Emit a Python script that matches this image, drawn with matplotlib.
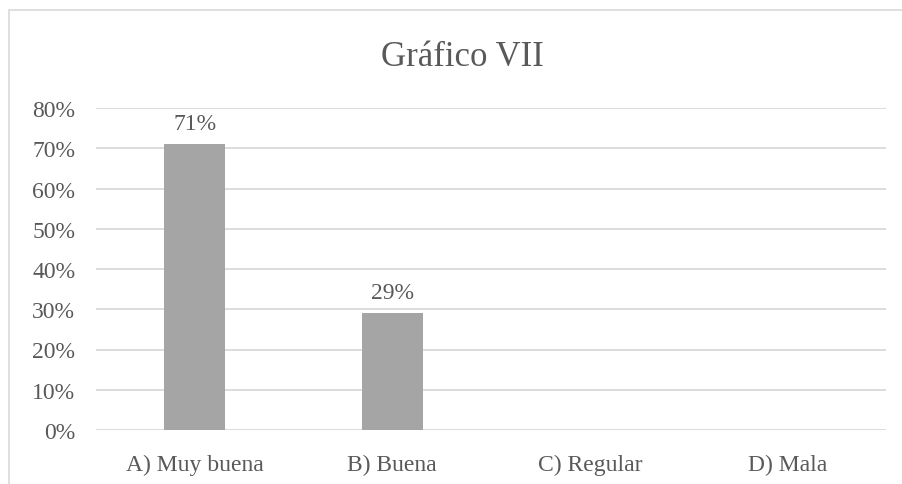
"""Gráfico VII: bar chart of ratings share."""

import matplotlib

matplotlib.use("Agg")
import matplotlib.pyplot as plt
from matplotlib.patches import Rectangle
from matplotlib.ticker import PercentFormatter

categories = ["A) Muy buena", "B) Buena", "C) Regular", "D) Mala"]
values = [0.71, 0.29, 0.0, 0.0]
bar_labels = ["71%", "29%", "", ""]
title = "Gráfico VII"

TEXT = "#595959"
plt.rcParams["font.family"] = ["Liberation Serif", "DejaVu Serif"]

fig = plt.figure(figsize=(9.03, 4.85), dpi=100)
ax = fig.add_axes([96 / 903, 1 - 431 / 485, 790 / 903, 322 / 485])

# chart frame, cut off at the right and bottom like the screenshot
fig.patches.append(
    Rectangle((9 / 903, -0.2), 1.2, 1.2 - 11 / 485, transform=fig.transFigure,
              fill=False, edgecolor="#d9d9d9", linewidth=1.2, clip_on=False)
)

x = range(len(categories))
bars = ax.bar(x, values, width=0.31, color="#a5a5a5", zorder=3)
for bar, lab in zip(bars, bar_labels):
    if lab:
        ax.text(bar.get_x() + bar.get_width() / 2, bar.get_height() + 0.026, lab,
                ha="center", va="bottom", fontsize=17, color=TEXT)

ax.set_xlim(-0.5, len(categories) - 0.5)
ax.set_ylim(0, 0.8)
ax.set_yticks([i / 10 for i in range(9)])
ax.yaxis.set_major_formatter(PercentFormatter(1.0, decimals=0))
ax.set_xticks(list(x))
ax.set_xticklabels(categories)
ax.tick_params(axis="both", length=0, labelsize=17, labelcolor=TEXT)
ax.tick_params(axis="y", pad=15)
ax.tick_params(axis="x", pad=17)
ax.grid(axis="y", color="#d9d9d9", linewidth=1.3, zorder=0)
for s in ax.spines.values():
    s.set_visible(False)

fig.text(462 / 903, 1 - 57 / 485, title, ha="center", va="center", fontsize=25, color=TEXT)

fig.savefig("out.png", dpi=100)
